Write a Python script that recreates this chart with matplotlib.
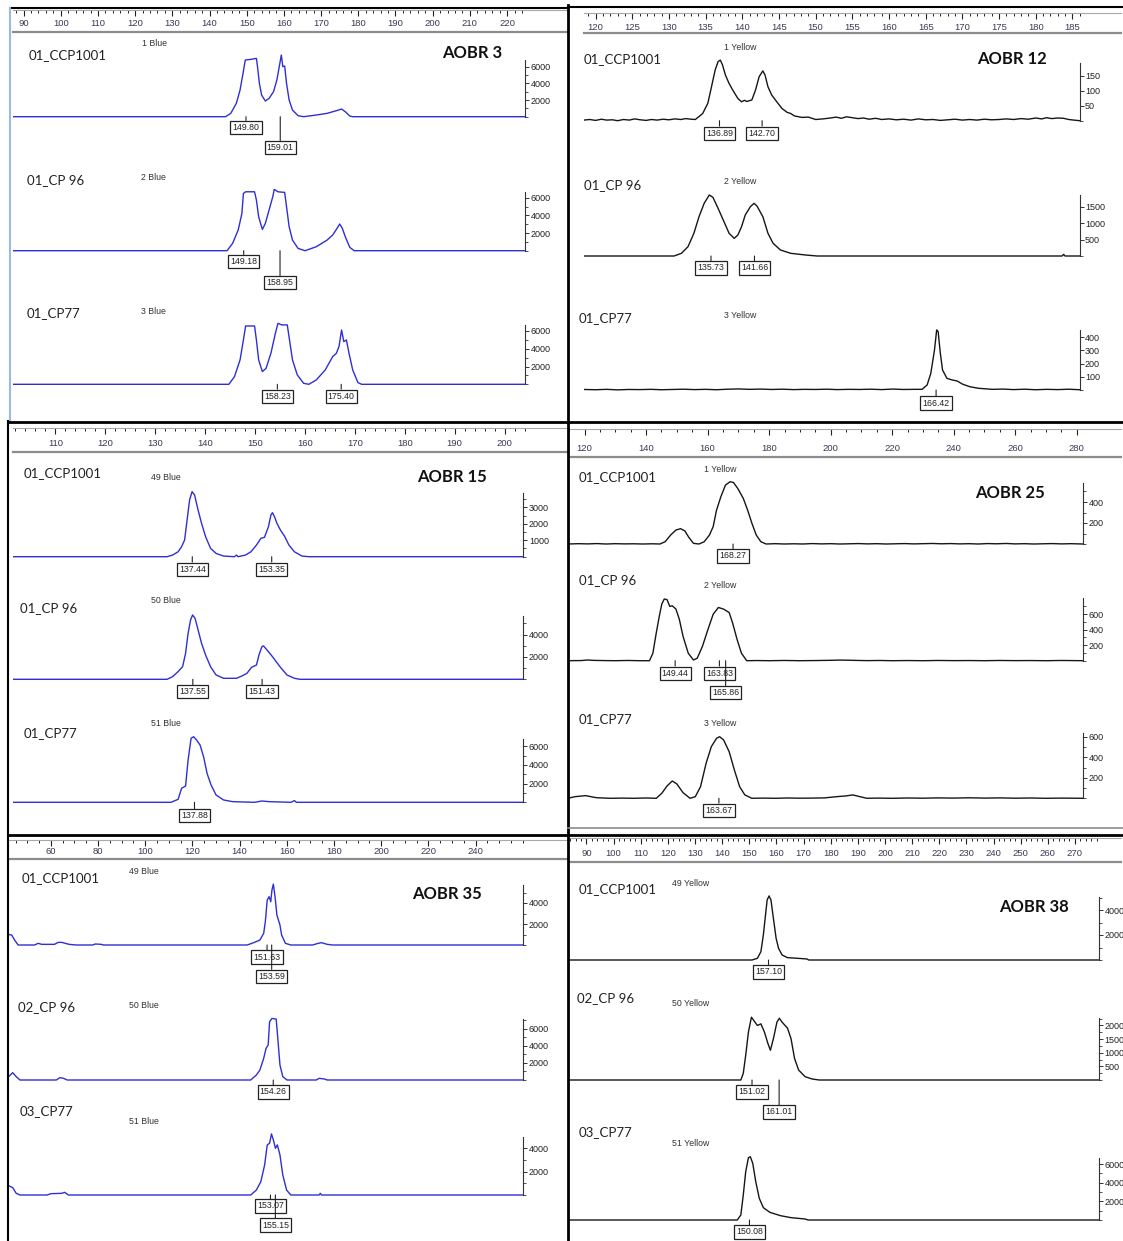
import numpy as np
import matplotlib
matplotlib.use('Agg')
import matplotlib.pyplot as plt
from matplotlib.ticker import FormatStrFormatter

W, H = 1123, 1241
BLUE = '#2f2fd6'
BLACK = '#161616'

# ---- traces: (fragment size bp, RFU) ----
aobr3_ccp1001 = [(87.0, 0), (144.3, 0), (145.7, 400), (147.2, 1600), (148.2, 3200), (149.0, 5200), (149.6, 6800),
                 (151.1, 6880), (152.6, 7000), (152.9, 6000), (153.4, 4000), (154.0, 2600), (155.0, 1880),
                 (156.0, 2200), (157.2, 3000), (158.1, 4400), (158.9, 6400), (159.3, 7400), (159.7, 6000),
                 (160.2, 6080), (160.7, 4000), (161.4, 2000), (162.3, 800), (163.8, 120), (165.3, 0), (168.7, 200),
                 (171.6, 400), (174.1, 720), (175.5, 920), (176.5, 600), (177.7, 80), (178.5, 0), (224.9, 0)]
aobr3_cp96 = [(87.0, 0), (144.7, 0), (146.2, 830), (147.7, 2340), (148.7, 4220), (149.1, 6480), (149.7, 6670),
              (152.1, 6670), (152.6, 5730), (153.2, 3850), (154.2, 2410), (155.0, 3090), (156.0, 4600),
              (157.0, 6110), (157.4, 6940), (158.4, 6670), (160.2, 6600), (160.7, 4980), (161.4, 2710),
              (162.3, 1200), (163.8, 260), (165.7, 0), (168.7, 450), (171.6, 1200), (173.1, 1770), (174.1, 2410),
              (175.0, 3020), (175.7, 2530), (176.5, 1580), (177.7, 380), (178.9, 0), (224.9, 0)]
aobr3_cp77 = [(87.0, 0), (145.2, 0), (146.7, 860), (148.2, 2740), (149.1, 4990), (149.7, 6560), (152.1, 6560),
              (152.6, 4990), (153.2, 2740), (154.2, 1430), (155.2, 1800), (156.5, 3490), (157.7, 5740),
              (158.4, 6860), (159.4, 6680), (160.9, 6680), (161.5, 4990), (162.3, 2740), (163.6, 1050),
              (165.3, 110), (166.7, 0), (168.7, 490), (171.1, 1610), (173.1, 3110), (174.1, 3490), (174.8, 4240),
              (175.5, 6110), (176.1, 4800), (176.8, 4990), (177.5, 3490), (178.5, 1610), (179.9, 190),
              (180.9, 0), (224.9, 0)]

aobr12_ccp1001 = [(118.4, 2), (119.2, 4), (120.0, 1), (120.8, 5), (121.5, 2), (122.3, 3), (123.0, 0), (123.8, 4),
                  (124.6, 2), (125.3, 6), (126.1, 3), (126.9, 1), (127.6, 4), (128.4, 2), (129.2, 5), (130.0, 3),
                  (130.8, 6), (131.6, 4), (132.3, 7), (133.0, 5), (133.6, 4), (134.6, 24), (135.3, 58),
                  (135.8, 113), (136.3, 169), (136.7, 197), (137.0, 202), (137.3, 186), (137.7, 152), (138.2, 124),
                  (138.7, 102), (139.4, 74), (139.9, 63), (140.3, 68), (140.6, 64), (141.0, 67), (141.3, 69),
                  (141.8, 102), (142.3, 147), (142.8, 166), (143.1, 152), (143.5, 113), (144.0, 86), (144.7, 63),
                  (145.4, 41), (146.1, 28), (146.6, 24), (147.1, 16), (148.1, 11), (149.0, 12), (150.0, 4),
                  (151.0, 6), (152.0, 9), (152.8, 12), (153.5, 8), (154.2, 13), (155.0, 10), (155.8, 7),
                  (156.5, 9), (157.3, 5), (158.2, 8), (159.0, 4), (160.0, 6), (161.0, 3), (162.0, 5), (163.0, 2),
                  (164.0, 6), (165.0, 3), (166.0, 4), (167.0, 1), (168.0, 3), (169.0, 5), (170.0, 2), (171.0, 4),
                  (172.0, 2), (173.0, 5), (174.0, 3), (175.0, 4), (176.0, 6), (177.0, 4), (178.0, 7), (179.0, 5),
                  (180.0, 9), (180.8, 6), (181.5, 10), (182.2, 7), (183.0, 9), (183.8, 8), (184.5, 4),
                  (185.2, 2), (186.0, 0)]
aobr12_cp96 = [(118.4, 0), (130.7, 0), (131.7, 82), (132.6, 286), (133.4, 694), (134.1, 1204), (134.8, 1612),
               (135.5, 1867), (136.0, 1795), (136.7, 1459), (137.5, 1051), (138.2, 694), (138.9, 541),
               (139.4, 643), (139.9, 898), (140.4, 1255), (141.1, 1510), (141.6, 1612), (142.0, 1530),
               (142.8, 1204), (143.5, 694), (144.2, 388), (145.2, 184), (146.6, 82), (148.6, 31), (150.2, 0),
               (183.6, 0), (183.8, 50), (184.0, 0), (186.0, 0)]
aobr12_cp77 = [(118.4, 4), (120.0, 2), (121.5, 5), (123.0, 1), (124.5, 4), (126.0, 3), (127.5, 5), (129.0, 2),
               (130.5, 4), (132.0, 6), (133.5, 3), (135.0, 5), (136.5, 2), (138.0, 6), (139.5, 8), (141.0, 5),
               (142.5, 7), (144.0, 4), (145.5, 6), (147.0, 3), (148.5, 5), (150.0, 4), (151.5, 6), (153.0, 3),
               (154.5, 5), (156.0, 4), (157.5, 6), (159.0, 3), (160.5, 7), (162.0, 4), (163.5, 5), (164.5, 5),
               (165.2, 38), (165.7, 126), (166.2, 302), (166.5, 454), (166.7, 441), (167.0, 277), (167.3, 151),
               (167.9, 88), (168.6, 76), (169.3, 68), (170.0, 45), (171.0, 25), (172.2, 13), (174.1, 5),
               (175.5, 7), (177.0, 3), (178.5, 6), (180.0, 2), (181.5, 5), (183.0, 3), (184.5, 6), (186.0, 2)]

aobr15_ccp1001 = [(101.3, 0), (132.4, 0), (133.5, 100), (134.6, 300), (135.3, 610), (135.9, 1015), (136.4, 2230),
                  (136.9, 3450), (137.4, 3960), (137.9, 3760), (138.6, 2840), (139.3, 2030), (140.1, 1220),
                  (141.1, 510), (142.2, 200), (143.7, 40), (145.9, 0), (146.3, 100), (146.6, 0), (148.1, 100),
                  (149.2, 300), (150.3, 710), (151.2, 1120), (151.9, 1180), (152.7, 1830), (153.2, 2540),
                  (153.5, 2680), (153.9, 2440), (154.4, 2030), (155.1, 1620), (155.9, 1260), (156.8, 710),
                  (157.9, 300), (159.4, 40), (160.8, 0), (203.8, 0)]
aobr15_cp96 = [(101.3, 0), (132.4, 0), (133.5, 240), (134.6, 690), (135.5, 1130), (136.1, 2330), (136.6, 4120),
               (137.1, 5310), (137.5, 5760), (138.0, 5460), (138.6, 4420), (139.3, 3220), (140.1, 2180),
               (141.1, 1130), (142.2, 390), (143.7, 90), (146.3, 90), (147.4, 300), (148.4, 540), (149.3, 1070),
               (150.3, 1280), (150.8, 2180), (151.4, 2930), (151.7, 2990), (152.4, 2630), (153.5, 2030),
               (155.0, 1130), (156.4, 390), (157.9, 90), (159.0, 0), (203.8, 0)]
aobr15_cp77 = [(101.3, 0), (133.2, 0), (134.6, 320), (135.3, 1500), (136.1, 1750), (136.6, 4530), (137.2, 6850),
               (137.7, 7030), (138.3, 6680), (139.0, 6140), (139.7, 4890), (140.4, 3100), (141.2, 1860),
               (142.2, 785), (143.7, 250), (145.5, 70), (149.9, 0), (151.4, 140), (152.8, 70), (157.2, 0),
               (157.9, 180), (158.3, 0), (203.8, 0)]

aobr25_ccp1001 = [(114.6, 0), (118, 3), (121, 1), (124, 4), (127, 0), (130, 3), (133, 1), (136, 2), (139, 0),
                  (142, 2), (144.5, 0), (146.2, 22), (148.0, 86), (149.7, 133), (151.2, 146), (152.6, 124),
                  (153.9, 63), (155.4, 6), (157.2, 0), (158.9, 22), (160.6, 86), (161.8, 165), (162.9, 323),
                  (164.3, 450), (165.8, 561), (167.3, 593), (168.4, 586), (169.8, 529), (171.6, 434), (173.0, 323),
                  (174.4, 197), (175.8, 86), (177.3, 22), (179.0, 0), (182, 3), (185, 0), (188, 2), (191, 0),
                  (194, 4), (197, 1), (200, 3), (203, 0), (206, 2), (209, 4), (212, 1), (215, 3), (218, 0),
                  (221, 2), (224, 4), (227, 1), (230, 3), (233, 5), (236, 2), (239, 4), (242, 1), (245, 3),
                  (248, 0), (251, 4), (254, 2), (257, 5), (260, 1), (263, 3), (266, 0), (269, 2), (272, 4),
                  (275, 1), (278, 3), (282, 0)]
aobr25_cp96 = [(114.6, 0), (119, 2), (120.9, 9), (123, 4), (126, 2), (130, 0), (134, 3), (138, 0), (141.1, 0),
               (142.2, 96), (143.3, 357), (144.3, 575), (145.1, 728), (145.9, 793), (146.8, 785), (147.7, 698),
               (148.5, 706), (149.7, 663), (150.8, 532), (152.0, 314), (153.7, 96), (155.4, 9), (156.6, 31),
               (158.3, 183), (160.1, 401), (161.8, 597), (163.5, 684), (165.2, 663), (167.0, 619), (168.1, 488),
               (169.6, 270), (171.0, 96), (172.7, 0), (176, 2), (180, 0), (185, 3), (190, 0), (195, 2),
               (200, 5), (203, 8), (206, 6), (209, 3), (212, 1), (216, 3), (220, 0), (225, 2), (230, 0),
               (235, 3), (240, 1), (245, 2), (250, 0), (255, 3), (260, 1), (265, 2), (270, 0), (275, 3), (282, 0)]
aobr25_cp77 = [(114.6, 0), (116.9, 16), (120.3, 26), (123.8, 6), (128.4, 0), (132, 2), (136, 0), (140, 3),
               (143.3, 0), (145.1, 49), (146.8, 120), (148.5, 169), (150.0, 140), (152.0, 55), (154.3, 0),
               (156.0, 16), (157.7, 114), (159.5, 341), (161.2, 504), (162.9, 585), (163.9, 601), (165.2, 569),
               (167.0, 455), (168.7, 276), (170.4, 114), (172.1, 33), (174.4, 0), (178, 2), (182, 0), (186, 3),
               (190, 1), (194, 2), (198, 4), (202, 16), (204.9, 23), (207.2, 33), (209.5, 16), (211.8, 0),
               (215, 2), (220, 0), (225, 3), (230, 1), (235, 4), (240, 2), (245, 5), (250, 2), (255, 4),
               (260, 1), (265, 3), (270, 0), (275, 2), (282, 0)]

aobr35_ccp1001 = [(42.1, 1000), (43.4, 950), (44.6, 475), (46.1, 0), (53.1, 0), (54.6, 160), (56.1, 63),
                  (61.5, 63), (63.1, 250), (64.6, 250), (67.7, 63), (70.8, 0), (77.7, 0), (78.8, 95), (81.3, 63),
                  (82.3, 0), (143.2, 0), (146.3, 250), (148.6, 475), (150.2, 1110), (150.9, 2220), (151.7, 4280),
                  (152.5, 4600), (153.2, 4120), (153.7, 5230), (154.3, 5800), (155.1, 4440), (155.8, 2850),
                  (157.1, 1900), (157.8, 950), (159.4, 160), (161.7, 0), (171.0, 0), (173.3, 160), (174.8, 220),
                  (177.1, 63), (179.4, 0), (260.3, 0)]
aobr35_cp96 = [(42.1, 400), (43.8, 854), (45.3, 388), (46.9, 0), (62.3, 0), (63.8, 272), (65.4, 194), (66.9, 0),
               (144.7, 0), (147.1, 582), (148.6, 1164), (150.2, 2522), (151.2, 3686), (152.1, 4074),
               (152.7, 6790), (153.7, 7178), (155.5, 7100), (156.3, 4462), (157.1, 1746), (158.3, 388),
               (160.1, 0), (172.5, 0), (173.7, 194), (175.9, 116), (177.1, 0), (260.3, 0)]
aobr35_cp77 = [(42.1, 800), (43.8, 630), (45.3, 143), (46.9, 0), (58.4, 0), (60.0, 114), (64.6, 143),
               (65.8, 229), (67.4, 0), (144.7, 0), (147.1, 429), (149.0, 1144), (150.6, 2574), (151.7, 4290),
               (152.7, 4433), (153.5, 5234), (154.3, 4719), (155.2, 4004), (156.0, 4290), (157.1, 3432),
               (158.3, 1716), (159.9, 429), (161.7, 0), (173.7, 0), (174.2, 143), (174.7, 0), (260.3, 0)]

aobr38_ccp1001 = [(83.2, 0), (151.0, 0), (153.0, 134), (154.3, 668), (155.2, 2003), (156.0, 3605), (156.6, 4806),
                  (157.3, 5126), (158.0, 4806), (158.9, 3338), (159.9, 1736), (160.8, 935), (162.1, 401),
                  (164.1, 187), (168.0, 134), (171.3, 80), (171.9, 0), (278.9, 0)]
aobr38_cp96 = [(83.2, 0), (146.9, 0), (147.8, 242), (148.7, 908), (149.7, 1755), (150.8, 2299), (151.7, 2178),
               (153.0, 1997), (154.3, 2057), (155.6, 1755), (156.9, 1331), (157.8, 1089), (158.9, 1513),
               (160.2, 2118), (161.1, 2263), (162.1, 2118), (164.1, 1900), (165.4, 1513), (166.7, 787),
               (168.2, 363), (170.6, 121), (173.2, 36), (175.8, 0), (278.9, 0)]
aobr38_cp77 = [(83.2, 0), (145.6, 0), (146.9, 536), (147.8, 2678), (148.7, 5177), (149.7, 6676), (150.4, 6783),
               (151.3, 6069), (152.4, 4106), (153.7, 2321), (155.2, 1321), (157.6, 821), (161.5, 464),
               (165.4, 250), (170.6, 107), (171.7, 0), (278.9, 0)]

# called peak sizes (bp)
peaks_aobr3 = [[149.80, 159.01], [149.18, 158.95], [158.23, 175.40]]
peaks_aobr12 = [[136.89, 142.70], [135.73, 141.66], [166.42]]
peaks_aobr15 = [[137.44, 153.35], [137.55, 151.43], [137.88]]
peaks_aobr25 = [[168.27], [149.44, 163.83, 165.86], [163.67]]
peaks_aobr35 = [[151.63, 153.59], [154.26], [153.07, 155.15]]
peaks_aobr38 = [[157.10], [151.02, 161.01], [150.08]]

samples_a = ['01_CCP1001', '01_CP 96', '01_CP77']
samples_b = ['01_CCP1001', '02_CP 96', '03_CP77']

# ---- layout (pixel positions in the 1123 x 1241 canvas) ----
panels = [
    dict(title='AOBR 3', title_xy=(442, 53), colour=BLUE, px0=23.6, bp0=90, ppbp=3.719,
         ruler=(12.7, 10, 568, 32), pad=13, major=(90, 220, 10), minor=(88, 224, 2), trace_lr=(12.7, 525.3),
         samples=samples_a, dyes=['1 Blue', '2 Blue', '3 Blue'],
         name_xy=[(29, 55), (27, 180), (27, 313)], dye_xy=[(142, 43), (141, 177), (141, 311)],
         data=[aobr3_ccp1001, aobr3_cp96, aobr3_cp77], peaks=peaks_aobr3, drops=[[11, 31], [11, 32], [12, 12]],
         base=[116.7, 250.7, 384.3], ppu=[0.008333, 0.008833, 0.00889], top=[6800, 6600, 6680],
         step=[2000, 2000, 2000], mstep=[1000, 1000, 1000]),
    dict(title='AOBR 12', title_xy=(977, 59), colour=BLACK, px0=595.6, bp0=120, ppbp=7.335,
         ruler=(584, 13, 1121, 33), pad=10, major=(120, 185, 5), minor=(119, 186, 1), trace_lr=(584, 1079.5),
         samples=samples_a, dyes=['1 Yellow', '2 Yellow', '3 Yellow'],
         name_xy=[(584, 59), (584, 185), (579, 318)], dye_xy=[(724, 47), (724, 182), (724, 316)],
         data=[aobr12_ccp1001, aobr12_cp96, aobr12_cp77], peaks=peaks_aobr12, drops=[[12.5, 12.5], [12, 12], [13]],
         base=[120.7, 256, 390], ppu=[0.3, 0.03267, 0.1323], top=[193, 1870, 454],
         step=[50, 500, 100], mstep=[None, None, None]),
    dict(title='AOBR 15', title_xy=(417, 477), colour=BLUE, px0=55.3, bp0=110, ppbp=4.992,
         ruler=(12.7, 428, 568, 452), pad=13, major=(110, 200, 10), minor=(102, 204, 2), trace_lr=(12.7, 523.4),
         samples=samples_a, dyes=['49 Blue', '50 Blue', '51 Blue'],
         name_xy=[(24, 473), (20, 608), (24, 733)], dye_xy=[(151, 478), (151, 601), (151, 723)],
         data=[aobr15_ccp1001, aobr15_cp96, aobr15_cp77], peaks=peaks_aobr15, drops=[[12.5, 12.5], [12.5, 12.5], [13.5]],
         base=[556.7, 679.3, 802.3], ppu=[0.01643, 0.01117, 0.00933], top=[3900, 5670, 6750],
         step=[1000, 2000, 2000], mstep=[500, 1000, 1000]),
    dict(title='AOBR 25', title_xy=(975, 493), colour=BLACK, px0=584.6, bp0=120, ppbp=3.0756,
         ruler=(569, 429, 1121, 457), pad=13, major=(120, 280, 20), minor=(115, 280, 5), trace_lr=(569, 1083),
         samples=samples_a, dyes=['1 Yellow', '2 Yellow', '3 Yellow'],
         name_xy=[(579, 477), (579, 580), (579, 719)], dye_xy=[(704, 469), (704, 586), (704, 723)],
         data=[aobr25_ccp1001, aobr25_cp96, aobr25_cp77], peaks=peaks_aobr25, drops=[[12], [12.5, 12.5, 32], [12]],
         base=[544, 660.7, 798.3], ppu=[0.105, 0.0778, 0.1025], top=[583, 800, 634],
         step=[200, 200, 200], mstep=[100, 100, 100]),
    dict(title='AOBR 35', title_xy=(412, 894), colour=BLUE, px0=50.9, bp0=60, ppbp=2.359,
         ruler=(9.1, 840, 568, 859), pad=12, major=(60, 240, 20), minor=(45, 260, 5), trace_lr=(9.1, 523.4),
         samples=samples_b, dyes=['49 Blue', '50 Blue', '51 Blue'],
         name_xy=[(22, 878), (18, 1007), (20, 1111)], dye_xy=[(129, 871), (129, 1006), (129, 1121)],
         data=[aobr35_ccp1001, aobr35_cp96, aobr35_cp77], peaks=peaks_aobr35, drops=[[12, 31.5], [12], [11, 30]],
         base=[945, 1080, 1195], ppu=[0.0105, 0.00858, 0.01167], top=[5700, 7100, 5000],
         step=[2000, 2000, 2000], mstep=[1000, 1000, 1000]),
    dict(title='AOBR 38', title_xy=(999, 907), colour=BLACK, px0=586.4, bp0=90, ppbp=2.714,
         ruler=(569, 838, 1121, 862), pad=13, major=(90, 270, 10), minor=(84, 278, 2), trace_lr=(569, 1099),
         samples=samples_b, dyes=['49 Yellow', '50 Yellow', '51 Yellow'],
         name_xy=[(579, 889), (577, 998), (579, 1132)], dye_xy=[(672, 883), (672, 1003), (672, 1143)],
         data=[aobr38_ccp1001, aobr38_cp96, aobr38_cp77], peaks=peaks_aobr38, drops=[[12], [12, 32], [12]],
         base=[960, 1080, 1220], ppu=[0.0125, 0.0273, 0.00933], top=[5070, 2260, 6680],
         step=[2000, 500, 2000], mstep=[1000, 250, 1000]),
]

fig = plt.figure(figsize=(W / 100, H / 100), dpi=100)
fig.patch.set_facecolor('white')


def px_axes(left, top, right, bottom):
    ax = fig.add_axes([left / W, 1 - bottom / H, (right - left) / W, (bottom - top) / H])
    ax.patch.set_visible(False)
    return ax


def fig_text(xy, s, **kw):
    fig.text(xy[0] / W, 1 - xy[1] / H, s, va='center', ha='left', **kw)


def fig_line(x1, y1, x2, y2, **kw):
    fig.add_artist(plt.Line2D([x1 / W, x2 / W], [1 - y1 / H, 1 - y2 / H], transform=fig.transFigure, **kw))


for p in panels:
    to_bp = lambda px: p['bp0'] + (px - p['px0']) / p['ppbp']

    # size ruler
    l, t, r, b = p['ruler']
    rax = px_axes(l, t, r, b)
    rax.set_xlim(to_bp(l), to_bp(r))
    rax.set_ylim(0, 1)
    rax.set_yticks([])
    rax.set_xticks(np.arange(p['major'][0], p['major'][1] + 1, p['major'][2]))
    rax.set_xticks(np.arange(p['minor'][0], p['minor'][1] + 0.1, p['minor'][2]), minor=True)
    rax.tick_params(axis='x', which='both', direction='in', top=True, bottom=False,
                    labeltop=False, labelbottom=True, color='#222222')
    rax.tick_params(axis='x', which='major', length=4, width=0.8, pad=-p['pad'] * 0.72,
                    labelsize=6.8, labelcolor='#3a3a55')
    rax.tick_params(axis='x', which='minor', length=2, width=0.7)
    for lab in rax.get_xticklabels():
        lab.set_family('Liberation Sans')
    rax.spines['left'].set_visible(False)
    rax.spines['right'].set_visible(False)
    rax.spines['top'].set_color('#a8a8a8')
    rax.spines['top'].set_linewidth(0.8)
    rax.spines['bottom'].set_color('#8c8c8c')
    rax.spines['bottom'].set_linewidth(1.6)

    fig_text(p['title_xy'], p['title'], family='Lato', fontweight='bold', fontsize=12, color='#111111')

    tl, tr = p['trace_lr']
    for i in range(3):
        base, ppu = p['base'][i], p['ppu'][i]
        ax = px_axes(tl, base - 80, tr, base + 42)
        ax.set_xlim(to_bp(tl), to_bp(tr))
        ax.set_ylim(-42 / ppu, 80 / ppu)
        xs = [pt[0] for pt in p['data'][i]]
        ys = [pt[1] for pt in p['data'][i]]
        ax.plot(xs, ys, color=p['colour'], lw=1.0, solid_joinstyle='round')

        for s in ['left', 'top', 'bottom']:
            ax.spines[s].set_visible(False)
        ax.spines['right'].set_bounds(0, p['top'][i])
        ax.spines['right'].set_color('#333333')
        ax.spines['right'].set_linewidth(0.8)
        ax.set_xticks([])
        ax.yaxis.tick_right()
        ax.set_yticks(np.arange(p['step'][i], p['top'][i], p['step'][i]))
        if p['mstep'][i]:
            ax.set_yticks(np.arange(0, p['top'][i], p['mstep'][i]), minor=True)
        else:
            ax.set_yticks([0], minor=True)
        ax.yaxis.set_major_formatter(FormatStrFormatter('%d'))
        ax.tick_params(axis='y', which='major', length=3, width=0.7, pad=1, labelsize=6.5,
                       color='#333333', labelcolor='#222222')
        ax.tick_params(axis='y', which='minor', length=1.8, width=0.6, color='#333333')
        for lab in ax.get_yticklabels():
            lab.set_family('Liberation Sans')

        for val, drop in zip(p['peaks'][i], p['drops'][i]):
            ax.annotate(f'{val:.2f}', xy=(val, 0), xytext=(val, -drop / ppu), textcoords='data',
                        ha='center', va='center', fontsize=6.3, family='Liberation Sans', color='#222222',
                        bbox=dict(boxstyle='square,pad=0.25', fc='white', ec='#222222', lw=0.9),
                        arrowprops=dict(arrowstyle='-', lw=0.8, color='#222222', shrinkA=0, shrinkB=0),
                        annotation_clip=False)

        fig_text(p['name_xy'][i], p['samples'][i], family='Lato', fontsize=9.5, color='#222222')
        fig_text(p['dye_xy'][i], p['dyes'][i], family='Liberation Sans', fontsize=6.3, color='#333333')

# panel frames
fig_line(10, 8, 568, 8, color='black', lw=1.5)
fig_line(568, 7, 1123, 7, color='black', lw=1.5)
fig_line(10, 8, 10, 421, color='#9db9e3', lw=1.5)
fig_line(8, 421, 8, 1241, color='black', lw=1.5)
fig_line(568, 5, 568, 1241, color='black', lw=2)
fig_line(8, 421.5, 1123, 421.5, color='black', lw=2)
fig_line(8, 834.5, 1123, 834.5, color='black', lw=2)
fig_line(568, 828, 1123, 828, color='#8c8c8c', lw=1.2)

fig.savefig('out.png', dpi=100)
